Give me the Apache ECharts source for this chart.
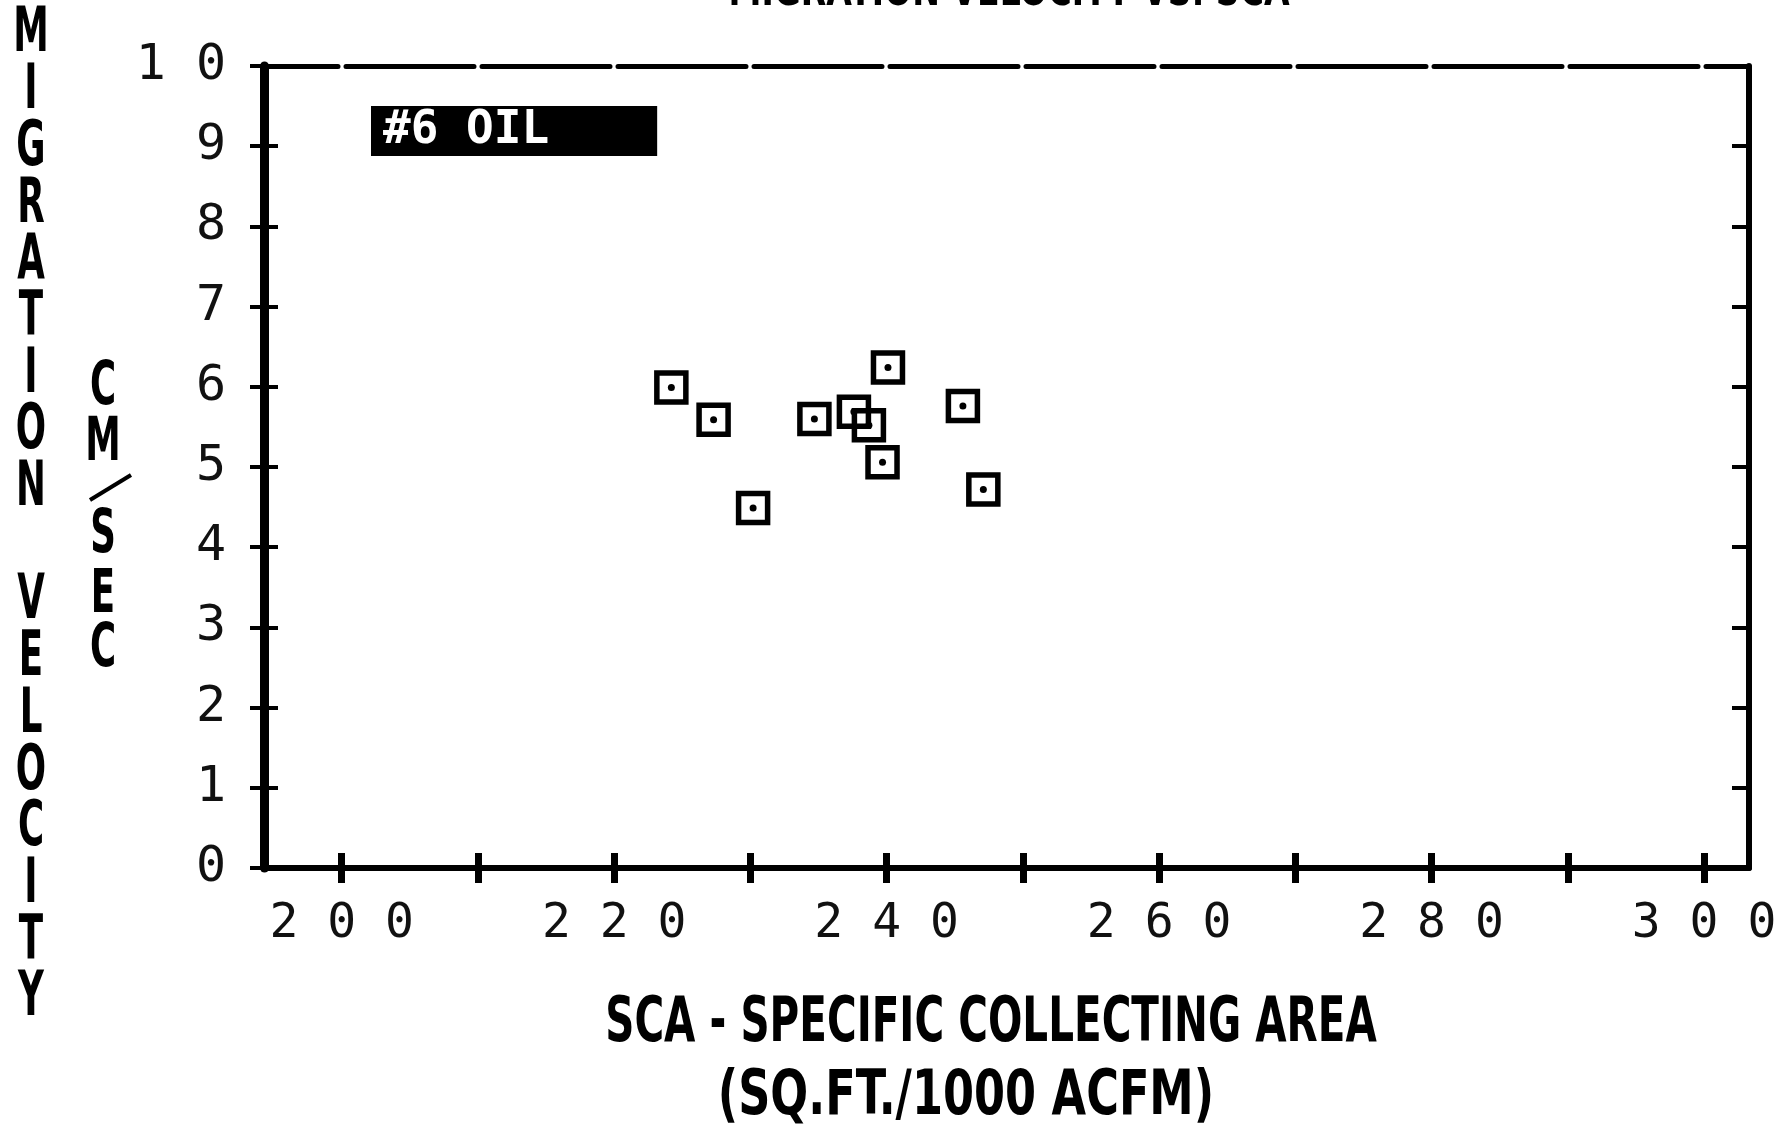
<!DOCTYPE html>
<html>
<head>
<meta charset="utf-8">
<script src="https://cdn.jsdelivr.net/npm/echarts@6/dist/echarts.min.js"></script>
<style>
html,body{margin:0;padding:0;background:#fff;}
#chart{width:1786px;height:1129px;}
</style>
</head>
<body>
<div id="chart"></div>
<script>
// ---- data ----
const scaValues = [224.2, 227.3, 230.2, 234.7, 237.6, 238.7, 239.7, 240.1, 245.6, 247.1];
const velocityValues = [5.99, 5.59, 4.49, 5.60, 5.69, 5.52, 5.06, 6.24, 5.76, 4.72];
const xTickValues = [200, 210, 220, 230, 240, 250, 260, 270, 280, 290, 300];
const xLabelValues = [200, 220, 240, 260, 280, 300];
const yTickValues = [0, 1, 2, 3, 4, 5, 6, 7, 8, 9, 10];
const legendText = '#6 OIL';
const yTitle = 'MIGRATION VELOCITY';
const unitTop = ['C', 'M'];
const unitBottom = ['S', 'E', 'C'];
const xTitle1 = 'SCA - SPECIFIC COLLECTING AREA';
const xTitle2 = '(SQ.FT./1000 ACFM)';
const topTitle = 'MIGRATION VELOCITY VS. SCA';

const points = scaValues.map((x, i) => [x, velocityValues[i]]);
const spaced = v => String(v).split('').join(' ');
const bold = "'DejaVu Sans Condensed','DejaVu Sans',sans-serif";
const mono = "'DejaVu Sans Mono','Liberation Mono',monospace";

const X_MIN = 194.3, X_MAX = 303.3;

// unit letters (C M / S E C), placed one per line
const unitCenters = [384, 440, 532, 592, 646];
const unitLetters = unitTop.concat(unitBottom);
const unitGraphics = unitLetters.map((ch, i) => ({
  type: 'text', x: 103, y: unitCenters[i] + 4, scaleX: 0.66,
  style: {text: ch, fontFamily: bold, fontWeight: 'bold', fontSize: 60,
    align: 'center', verticalAlign: 'middle', fill: '#000'}
}));

const chart = echarts.init(document.getElementById('chart'));
chart.setOption({
  animation: false,
  backgroundColor: '#fff',
  grid: {left: 264, right: 37, top: 66, bottom: 261},
  xAxis: [
    {
      type: 'value', position: 'bottom', min: X_MIN, max: X_MAX,
      splitLine: {show: false},
      axisLine: {show: true, onZero: false, lineStyle: {color: '#000', width: 6}},
      axisTick: {show: true, customValues: xTickValues, length: 15, lineStyle: {color: '#000', width: 7}},
      axisLabel: {show: true, customValues: xLabelValues, formatter: spaced, margin: 33,
        fontFamily: mono, fontSize: 48, color: '#111'}
    },
    {
      type: 'value', position: 'bottom', min: X_MIN, max: X_MAX,
      splitLine: {show: false},
      axisLine: {show: false, onZero: false},
      axisTick: {show: true, inside: true, customValues: xTickValues, length: 15, lineStyle: {color: '#000', width: 7}},
      axisLabel: {show: false}
    },
    {
      type: 'value', position: 'top', min: X_MIN, max: X_MAX,
      splitLine: {show: false},
      axisLine: {show: true, onZero: false, lineStyle: {color: '#000', width: 5, type: [128, 8], dashOffset: 54}},
      axisTick: {show: false},
      axisLabel: {show: false}
    }
  ],
  yAxis: [
    {
      type: 'value', position: 'left', min: 0, max: 10, interval: 1,
      splitLine: {show: false},
      axisLine: {show: true, onZero: false, lineStyle: {color: '#000', width: 9}},
      axisTick: {show: true, length: 14, lineStyle: {color: '#000', width: 4}},
      axisLabel: {show: true, formatter: spaced, margin: 38, fontFamily: mono, fontSize: 50, color: '#111'}
    },
    {
      type: 'value', position: 'left', min: 0, max: 10, interval: 1,
      splitLine: {show: false},
      axisLine: {show: false, onZero: false},
      axisTick: {show: true, inside: true, length: 14, lineStyle: {color: '#000', width: 4}},
      axisLabel: {show: false}
    },
    {
      type: 'value', position: 'right', min: 0, max: 10, interval: 1,
      splitLine: {show: false},
      axisLine: {show: true, onZero: false, lineStyle: {color: '#000', width: 6}},
      axisTick: {show: true, inside: true, length: 17, lineStyle: {color: '#000', width: 4}},
      axisLabel: {show: false}
    }
  ],
  series: [
    {
      type: 'scatter', xAxisIndex: 0, yAxisIndex: 0, data: points,
      symbol: 'rect', symbolSize: 29,
      itemStyle: {color: 'rgba(0,0,0,0)', borderColor: '#000', borderWidth: 5.5, opacity: 1}
    },
    {
      type: 'scatter', xAxisIndex: 0, yAxisIndex: 0, data: points,
      symbol: 'circle', symbolSize: 7,
      itemStyle: {color: '#000', opacity: 1}
    }
  ],
  graphic: [
    {
      type: 'text', x: 1009, y: -30, scaleX: 0.8,
      style: {text: topTitle, fontFamily: bold, fontWeight: 'bold', fontSize: 46, fill: '#000',
        align: 'center', verticalAlign: 'top'}
    },
    {
      type: 'text', x: 31, y: 7, scaleX: 0.64,
      style: {text: yTitle.split('').join('\n'), fontFamily: bold, fontWeight: 'bold', fontSize: 62,
        lineHeight: 56.7, align: 'center', verticalAlign: 'top', fill: '#000'}
    },
    {
      type: 'line', shape: {x1: 90, y1: 500, x2: 131, y2: 475},
      style: {stroke: '#000', lineWidth: 4}
    },
    {
      type: 'text', x: 371, y: 106,
      style: {text: legendText, fontFamily: mono, fontWeight: 'bold', fontSize: 46,
        fill: '#fff', backgroundColor: '#000', padding: [2, 108, 2, 12], verticalAlign: 'top', align: 'left'}
    },
    {
      type: 'text', x: 991, y: 1025, scaleX: 0.726,
      style: {text: xTitle1, fontFamily: bold, fontWeight: 'bold', fontSize: 62,
        align: 'center', verticalAlign: 'middle', fill: '#000'}
    },
    {
      type: 'text', x: 966, y: 1098, scaleX: 0.8,
      style: {text: xTitle2, fontFamily: bold, fontWeight: 'bold', fontSize: 62,
        align: 'center', verticalAlign: 'middle', fill: '#000'}
    }
  ].concat(unitGraphics)
});
</script>
</body>
</html>
